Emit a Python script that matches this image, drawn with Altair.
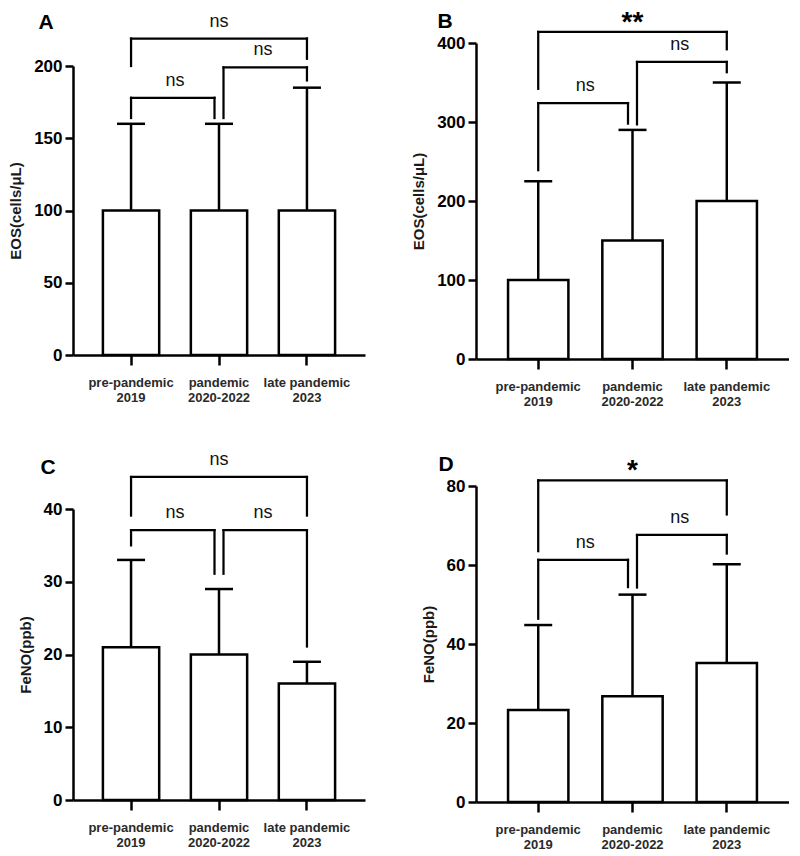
import altair as alt
import pandas as pd

groups = ["pre-pandemic\n2019", "pandemic\n2020-2022", "late pandemic\n2023"]

# bracket pairs (index into groups)
bracket_from = [0, 1, 0]
bracket_to = [1, 2, 2]

# Panel A
a_mean = [100, 100, 100]
a_sd_top = [160, 160, 185]
a_ticks = [0, 50, 100, 150, 200]
a_br_top = [178, 199, 219]
a_br_left = [164, 164, 200]
a_br_right = [164, 190, 205]
a_br_label = ["ns", "ns", "ns"]

# Panel B
b_mean = [100, 150, 200]
b_sd_top = [225, 290, 350]
b_ticks = [0, 100, 200, 300, 400]
b_br_top = [324, 376, 414]
b_br_left = [239, 297, 342]
b_br_right = [298, 363, 392]
b_br_label = ["ns", "ns", "**"]

# Panel C
c_mean = [21, 20, 16]
c_sd_top = [33, 29, 19]
c_ticks = [0, 10, 20, 30, 40]
c_br_top = [37.1, 37.1, 44.4]
c_br_left = [35.0, 31.1, 39.1]
c_br_right = [31.1, 21.1, 39.1]
c_br_label = ["ns", "ns", "ns"]

# Panel D
d_mean = [23.3, 26.8, 35.2]
d_sd_top = [44.8, 52.5, 60.2]
d_ticks = [0, 20, 40, 60, 80]
d_br_top = [61.3, 67.6, 81.4]
d_br_left = [46.4, 54.3, 63.5]
d_br_right = [54.4, 62.9, 72.8]
d_br_label = ["ns", "ns", "*"]

FONT = "Liberation Sans"
LW = 2.5
PI, PO = 0.36, 0.34


def panel(letter, ytitle, means, tops, ticks, br_top, br_left, br_right, br_label,
          width, height, letter_x, letter_y, lift=0):
    # lift: how many pixels the plot area is raised above the row's common origin
    step = width / (3 - PI + 2 * PO)
    view_h = height - lift
    xscale = alt.Scale(domain=groups, paddingInner=PI, paddingOuter=PO)
    yscale = alt.Scale(domain=[ticks[0], ticks[-1]], nice=False, zero=True,
                       range=[view_h, -lift])
    xaxis = alt.Axis(
        title=None, labelExpr="split(datum.label, '\\n')", labelAngle=0,
        labelFont=FONT, labelFontSize=13, labelFontWeight="bold", labelColor="#2a2a2a",
        labelPadding=11, labelLineHeight=15, labelBaseline="top",
        tickSize=10, tickWidth=LW, tickColor="black",
        domainWidth=LW, domainColor="black", grid=False,
    )
    yaxis = alt.Axis(
        title=ytitle, values=ticks, labelFont=FONT, labelFontSize=17,
        labelFontWeight="bold", labelColor="black", labelPadding=3,
        tickSize=8, tickWidth=LW, tickColor="black",
        domainWidth=LW, domainColor="black", grid=False,
        titleFont=FONT, titleFontSize=15, titleFontWeight="bold", titleColor="#1a1a1a",
        titlePadding=10,
    )

    def X(f):
        return alt.X(f"{f}:N", scale=xscale, axis=xaxis, sort=groups)

    def Y(f):
        return alt.Y(f"{f}:Q", scale=yscale, axis=yaxis)

    df = pd.DataFrame({"group": groups, "mean": means, "top": tops})
    base = alt.Chart(df)
    bars = base.mark_bar(fill="white", stroke="black", strokeWidth=LW).encode(
        x=X("group"), y=Y("mean"))
    err = base.mark_rule(color="black", strokeWidth=LW).encode(
        x=X("group"), y=Y("mean"), y2=alt.Y2("top"))
    cap = base.mark_tick(color="black", size=28, thickness=LW, opacity=1).encode(
        x=X("group"), y=Y("top"))

    layers = [bars, err, cap]
    for i in range(3):
        bf, bt = bracket_from[i], bracket_to[i]
        o1 = 4.5 if bf == 1 else 0
        o2 = -4.5 if bt == 1 else 0
        bdf = pd.DataFrame({
            "g1": [groups[bf]], "g2": [groups[bt]], "top": [br_top[i]],
            "lb": [br_left[i]], "rb": [br_right[i]], "label": [br_label[i]],
        })
        bc = alt.Chart(bdf)
        layers.append(bc.mark_rule(color="black", strokeWidth=LW * 0.9, strokeCap="square",
                                   xOffset=o1, x2Offset=o2).encode(
            x=X("g1"), x2=alt.X2("g2"), y=Y("top")))
        layers.append(bc.mark_rule(color="black", strokeWidth=LW * 0.9, strokeCap="square",
                                   xOffset=o1).encode(
            x=X("g1"), y=Y("top"), y2=alt.Y2("lb")))
        layers.append(bc.mark_rule(color="black", strokeWidth=LW * 0.9, strokeCap="square",
                                   xOffset=o2).encode(
            x=X("g2"), y=Y("top"), y2=alt.Y2("rb")))
        if "*" in br_label[i]:
            txt = bc.mark_text(font=FONT, fontSize=28, fontWeight="bold", color="black",
                               baseline="alphabetic", align="center",
                               dx=(bt - bf) * step / 2, dy=-1)
        else:
            txt = bc.mark_text(font=FONT, fontSize=18, fontWeight="normal", color="#111",
                               baseline="alphabetic", align="center",
                               dx=(bt - bf) * step / 2, dy=-12)
        layers.append(txt.encode(x=X("g1"), y=Y("top"), text="label:N"))

    lab = alt.Chart(pd.DataFrame({"t": [letter]})).mark_text(
        font=FONT, fontSize=21, fontWeight="bold", color="black",
        align="center", baseline="top").encode(
        x=alt.value(letter_x), y=alt.value(letter_y - lift), text="t:N")
    layers.append(lab)
    return alt.layer(*layers).properties(width=width, height=view_h)


pa = panel("A", "EOS(cells/μL)", a_mean, a_sd_top, a_ticks, a_br_top, a_br_left,
           a_br_right, a_br_label, 292, 289, -27, -54)
pb = panel("B", "EOS(cells/μL)", b_mean, b_sd_top, b_ticks, b_br_top, b_br_left,
           b_br_right, b_br_label, 313, 316, -31, -32, lift=23)
pc = panel("C", "FeNO(ppb)", c_mean, c_sd_top, c_ticks, c_br_top, c_br_left,
           c_br_right, c_br_label, 292, 291, -25, -52)
pd_ = panel("D", "FeNO(ppb)", d_mean, d_sd_top, d_ticks, d_br_top, d_br_left,
            d_br_right, d_br_label, 313, 316, -30, -32, lift=22)

left_col = alt.vconcat(pa, pc, spacing=46)
right_col = alt.vconcat(pb, pd_, spacing=46)
chart = alt.hconcat(left_col, right_col, spacing=46).properties(padding=0).configure(
    background="white", view=alt.ViewConfig(stroke=None))

chart.save("out.html", embed_options={"renderer": "svg", "actions": False})
